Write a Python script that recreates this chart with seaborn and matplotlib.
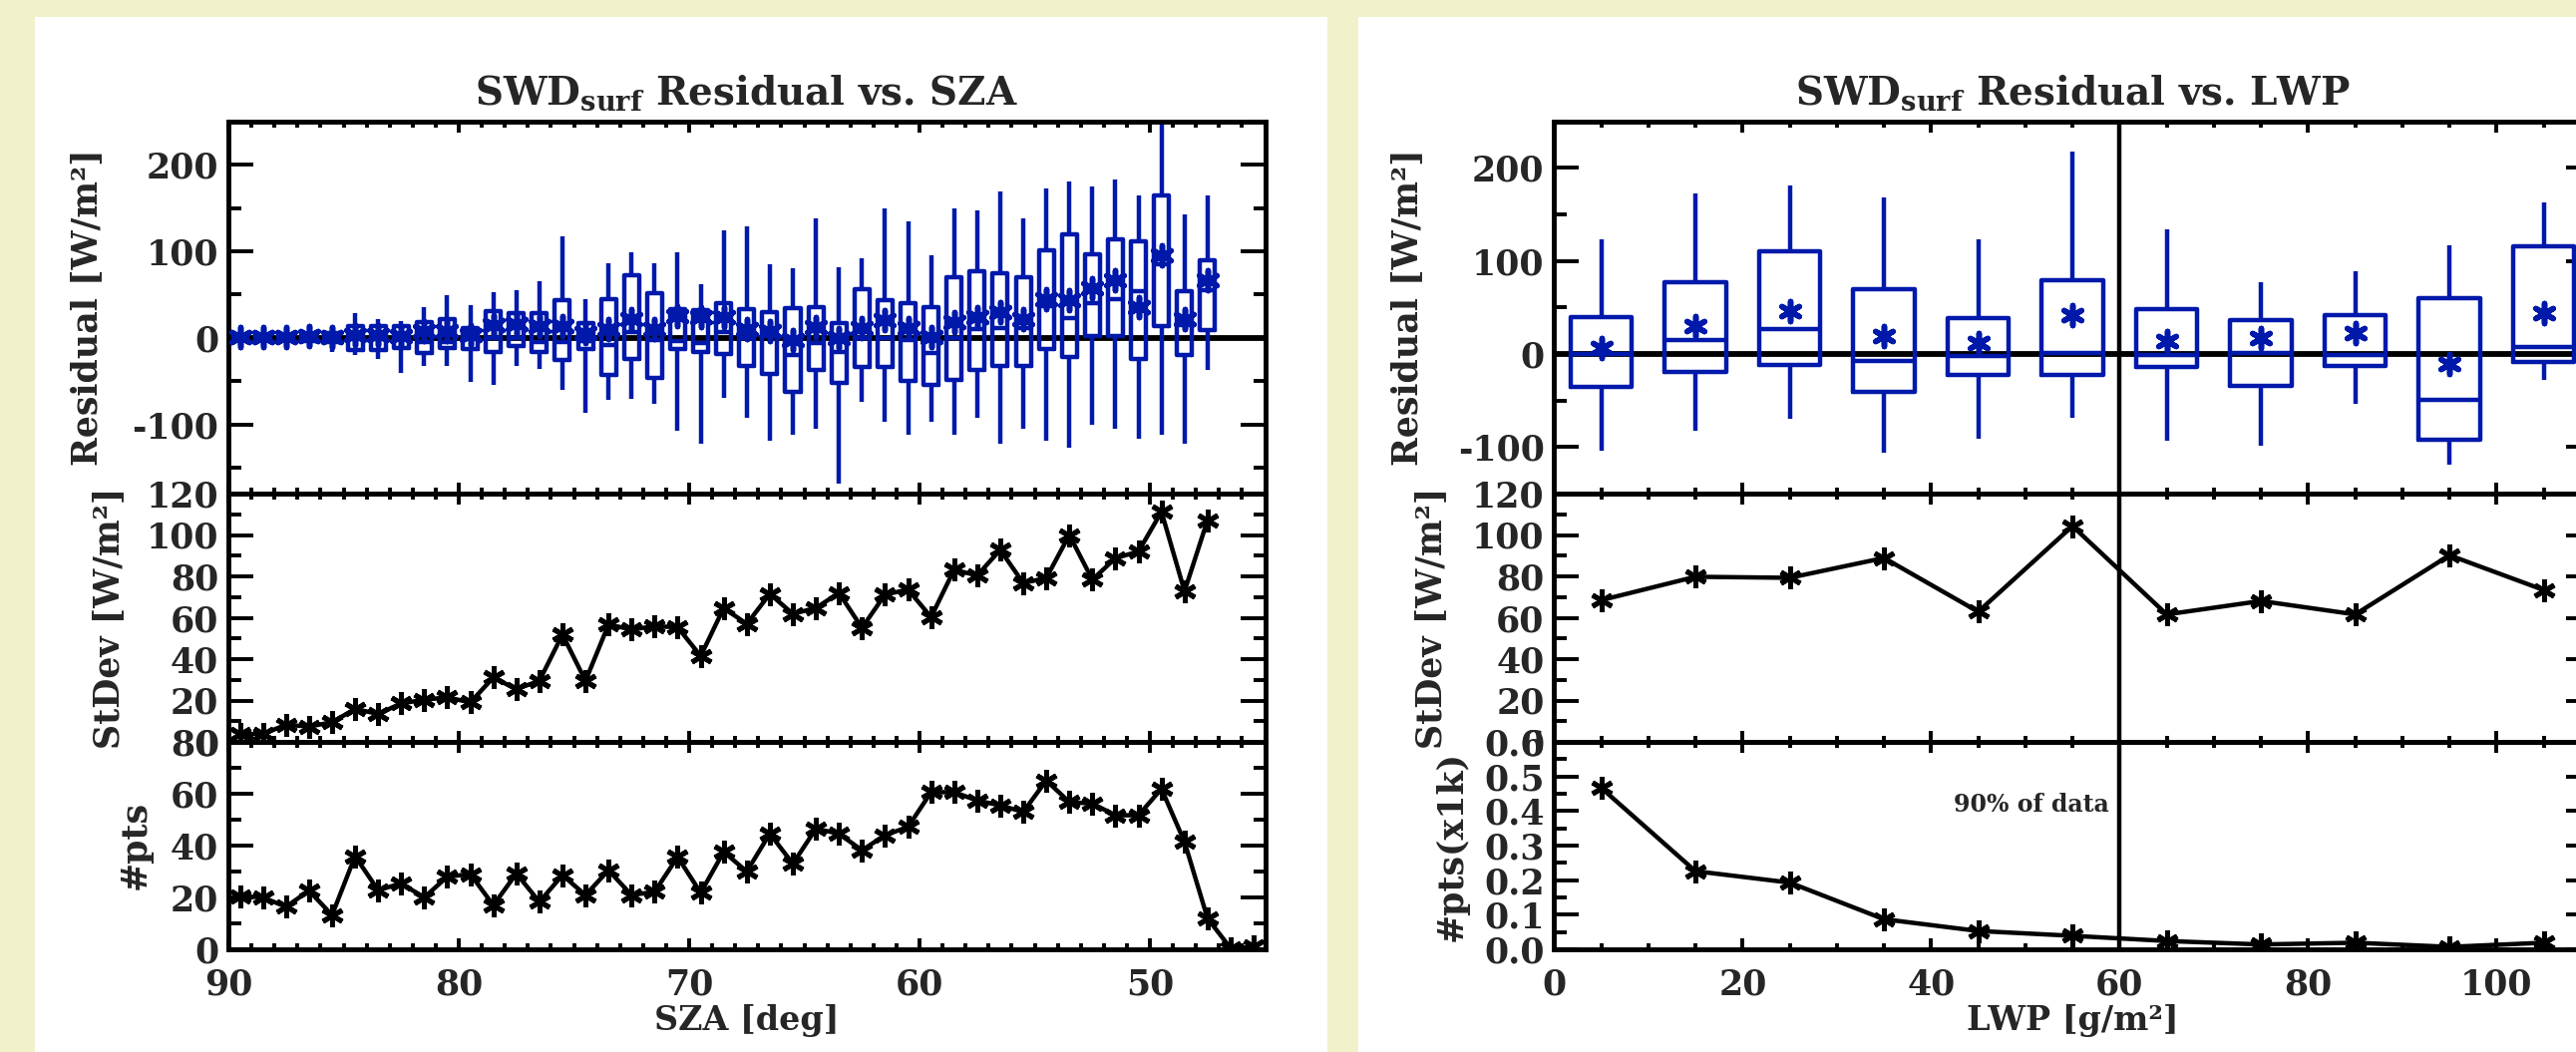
import numpy as np
import pandas as pd
import matplotlib.pyplot as plt
from matplotlib.patches import Rectangle
from matplotlib.ticker import MultipleLocator, FormatStrFormatter
import seaborn as sns

# ---- SZA panel data -------------------------------------------------------
sza_bins = [89.5, 88.5, 87.5, 86.5, 85.5, 84.5, 83.5, 82.5, 81.5, 80.5,
            79.5, 78.5, 77.5, 76.5, 75.5, 74.5, 73.5, 72.5, 71.5, 70.5,
            69.5, 68.5, 67.5, 66.5, 65.5, 64.5, 63.5, 62.5, 61.5, 60.5,
            59.5, 58.5, 57.5, 56.5, 55.5, 54.5, 53.5, 52.5, 51.5, 50.5,
            49.5, 48.5, 47.5, 46.5, 45.5]
sza_lo = [-8, -8, -9, -12, -17, -20, -24, -41, -32, -33,
          -51, -55, -33, -36, -60, -87, -72, -71, -76, -107,
          -122, -69, -93, -119, -112, -105, -169, -74, -97, -112,
          -97, -112, -92, -122, -105, -119, -127, -100, -105, -117,
          -112, -122, -37]
sza_q1 = [-3, -3, -3, -4, -5, -14, -14, -12, -18, -12,
          -13, -17, -9, -17, -26, -13, -43, -24, -46, -13,
          -17, -19, -32, -42, -62, -37, -52, -34, -34, -50,
          -54, -49, -37, -32, -32, -13, -22, 2, 2, -25,
          13, -20, 9]
sza_med = [0, 0, 0, 0, 0, -2, -1, -1, -5, -5,
           -2, 0, 0, -5, -5, -4, -8, 7, -3, -4,
           -6, 7, 0, 2, -20, -6, -16, 0, 0, -3,
           -18, 0, 10, 11, 11, 36, 23, 40, 45, 54,
           85, 15, 55]
sza_q3 = [3, 3, 3, 4, 5, 13, 14, 13, 18, 22,
          11, 31, 29, 29, 43, 17, 45, 72, 52, 33,
          32, 40, 33, 30, 34, 35, 17, 56, 44, 40,
          35, 70, 77, 75, 70, 101, 120, 97, 114, 112,
          164, 54, 90]
sza_hi = [8, 9, 10, 15, 13, 28, 22, 19, 35, 49,
          38, 53, 55, 65, 117, 45, 86, 99, 86, 99,
          62, 124, 129, 85, 80, 138, 82, 92, 149, 135,
          95, 149, 147, 169, 138, 173, 181, 175, 183, 164,
          260, 142, 164]
sza_mean = [1, 1, 1, 2, 1, 3, 3, 2, 8, 8,
            3, 15, 16, 14, 14, 6, 10, 22, 10, 25,
            24, 24, 10, 8, -3, 12, 0, 11, 20, 11,
            1, 18, 24, 30, 22, 45, 43, 57, 66, 35,
            95, 22, 66]
sza_std = [3.8, 3.8, 8.3, 7.4, 9.5, 15.9, 13.5, 18.6, 20.4, 21.5,
           19.1, 31.1, 25.5, 29.5, 51.9, 29.5, 56.7, 54.3, 55.9, 55.4,
           41.5, 64.7, 57.0, 71.5, 61.9, 64.7, 72.0, 55.1, 71.2, 73.6,
           60.3, 83.2, 80.4, 92.8, 76.8, 79.2, 100.0, 78.4, 88.8, 92.0,
           111.2, 72.8, 107.2]
sza_npts = [20.5, 20.0, 16.4, 22.6, 13.2, 35.9, 22.8, 25.4, 20.0, 28.0,
            29.0, 17.0, 29.2, 18.3, 28.6, 20.9, 30.5, 20.9, 22.2, 35.6,
            21.8, 37.6, 30.0, 44.6, 33.0, 46.5, 44.6, 38.2, 44.0, 47.2,
            60.6, 60.6, 57.4, 55.5, 53.0, 65.1, 56.8, 56.2, 51.7, 51.7,
            61.9, 41.4, 11.9, 0.4, 1.0]

# ---- LWP panel data -------------------------------------------------------
lwp_bins = [5, 15, 25, 35, 45, 55, 65, 75, 85, 95, 105]
lwp_lo = [-104, -82, -70, -106, -91, -69, -93, -99, -54, -119, -28]
lwp_q1 = [-35, -19, -12, -41, -23, -22, -14, -34, -13, -92, -9]
lwp_med = [0, 15, 27, -8, -2, 1, -1, 1, -1, -49, 7]
lwp_q3 = [40, 77, 110, 70, 39, 79, 48, 36, 42, 60, 116]
lwp_hi = [123, 173, 181, 168, 123, 217, 134, 77, 89, 117, 163]
lwp_mean = [6, 30, 46, 19, 12, 42, 14, 17, 22, -11, 44]
lwp_std = [68.5, 79.8, 79.3, 88.9, 62.9, 104.3, 61.6, 68.1, 61.6, 90.2, 73.4]
lwp_npts = [0.467, 0.226, 0.193, 0.087, 0.053, 0.039, 0.024, 0.014, 0.019, 0.007, 0.019]

BLUE = '#0019aa'
BG = '#f1f1cb'
W, H = 2583, 1055
STAR = (6, 2, 0)
TICK_FS = 25
LABEL_FS = 25


def box_frame(xs, cols):
    rows = []
    for i, x in enumerate(xs[:len(cols[0])]):
        for c in cols:
            rows.append((x, c[i]))
    return pd.DataFrame(rows, columns=['x', 'y'])


def style(ax, xmaj, xmin, ymaj, ymin):
    for s in ax.spines.values():
        s.set_visible(True)
        s.set_linewidth(3.5)
        s.set_color('k')
    ax.set_facecolor('none')
    ax.xaxis.set_major_locator(MultipleLocator(xmaj))
    ax.xaxis.set_minor_locator(MultipleLocator(xmin))
    ax.yaxis.set_major_locator(MultipleLocator(ymaj))
    ax.yaxis.set_minor_locator(MultipleLocator(ymin))
    ax.tick_params(which='both', direction='in', top=True, right=True,
                   bottom=True, left=True, width=2.8, color='k',
                   labelsize=TICK_FS, pad=7)
    ax.tick_params(axis='x', which='major', length=8, pad=13)
    ax.tick_params(axis='x', which='minor', length=4.5)
    ax.tick_params(axis='y', which='major', length=18)
    ax.tick_params(axis='y', which='minor', length=9)


def ylab(ax, text, xpos):
    ax.set_ylabel(text, fontsize=LABEL_FS)
    ax.yaxis.set_label_coords(xpos, 0.5)
    ax.yaxis.label.set_verticalalignment('center')


def make_column(fig, x0, bins, lo, q1, med, q3, hi, mean, std, npts,
                xlim, xmaj, xmin, box_ylim, n_ylim, n_maj, n_min,
                title, xlabel, nlabel, labx):
    left = x0 / W
    width = 1039.6 / W
    ax_b = fig.add_axes([left, 1 - 495 / H, width, (495 - 121.7) / H])
    ax_s = fig.add_axes([left, 1 - 744 / H, width, (744 - 495) / H])
    ax_n = fig.add_axes([left, 1 - 952 / H, width, (952 - 744) / H])

    df = box_frame(bins, [lo, q1, med, q3, hi])
    ax_b.axhline(0, color='k', lw=4.2, zorder=0.5)
    sns.boxplot(data=df, x='x', y='y', orient='x', native_scale=True,
                whis=(0, 100), width=0.65, fill=False, color=BLUE,
                linewidth=3.2, showcaps=False, showfliers=False, ax=ax_b)
    sns.scatterplot(x=bins[:len(mean)], y=mean, marker=STAR, s=210,
                    color=BLUE, linewidth=4, zorder=3, legend=False, ax=ax_b)

    sns.lineplot(x=bins[:len(std)], y=std, color='k', lw=3.2, marker=STAR,
                 markersize=16, markeredgewidth=3.6, markeredgecolor='k',
                 errorbar=None, ax=ax_s)
    sns.lineplot(x=bins[:len(npts)], y=npts, color='k', lw=3.2, marker=STAR,
                 markersize=16, markeredgewidth=3.6, markeredgecolor='k',
                 errorbar=None, ax=ax_n)

    style(ax_b, xmaj, xmin, 100, 50)
    style(ax_s, xmaj, xmin, 20, 10)
    style(ax_n, xmaj, xmin, n_maj, n_min)
    for ax in (ax_b, ax_s, ax_n):
        ax.set_xlim(*xlim)
        ax.set_xlabel('')
    ax_b.set_ylim(*box_ylim)
    ax_s.set_ylim(0, 120)
    ax_n.set_ylim(*n_ylim)
    ax_b.tick_params(labelbottom=False)
    ax_s.tick_params(labelbottom=False)

    ax_b.set_title(title, fontsize=28, pad=12)
    ylab(ax_b, 'Residual [W/m²]', labx[0])
    ylab(ax_s, 'StDev [W/m²]', labx[1])
    ylab(ax_n, nlabel, labx[2])
    ax_n.set_xlabel(xlabel, fontsize=24, labelpad=2)
    return ax_b, ax_s, ax_n


sns.set_style('ticks')
plt.rcParams['font.family'] = ['DejaVu Serif']
plt.rcParams['font.weight'] = 'bold'
plt.rcParams['axes.labelweight'] = 'bold'
plt.rcParams['axes.titleweight'] = 'bold'
plt.rcParams['mathtext.fontset'] = 'dejavuserif'
plt.rcParams['axes.unicode_minus'] = False

fig = plt.figure(figsize=(W / 100, H / 100), dpi=100)
fig.patch.set_facecolor(BG)
fig.add_artist(Rectangle((35 / W, 0), 1296 / W, 1 - 17 / H,
                         transform=fig.transFigure, facecolor='white',
                         edgecolor='none', zorder=0))
fig.add_artist(Rectangle((1362 / W, 0), 1296 / W, 1 - 17 / H,
                         transform=fig.transFigure, facecolor='white',
                         edgecolor='none', zorder=0))

make_column(fig, 229, sza_bins, sza_lo, sza_q1, sza_med, sza_q3, sza_hi,
            sza_mean, sza_std, sza_npts,
            xlim=(90, 45), xmaj=10, xmin=1, box_ylim=(-180, 250),
            n_ylim=(0, 80), n_maj=20, n_min=10,
            title=r'SWD$_{\mathbf{surf}}$ Residual vs. SZA',
            xlabel='SZA [deg]', nlabel='#pts',
            labx=(-0.137, -0.115, -0.090))

axs = make_column(fig, 1558.3, lwp_bins, lwp_lo, lwp_q1, lwp_med, lwp_q3,
                  lwp_hi, lwp_mean, lwp_std, lwp_npts,
                  xlim=(0, 110), xmaj=20, xmin=5, box_ylim=(-150, 250),
                  n_ylim=(0, 0.6), n_maj=0.1, n_min=0.05,
                  title=r'SWD$_{\mathbf{surf}}$ Residual vs. LWP',
                  xlabel='LWP [g/m²]', nlabel='#pts(x1k)',
                  labx=(-0.142, -0.119, -0.099))
axs[2].yaxis.set_major_formatter(FormatStrFormatter('%.1f'))
for ax in axs:
    ax.axvline(60, color='k', lw=3.2, zorder=1)
axs[2].text(58.9, 0.418, '90% of data', ha='right', va='center',
            fontsize=17, fontweight='bold')

fig.savefig('out.png', dpi=100, facecolor=BG)
